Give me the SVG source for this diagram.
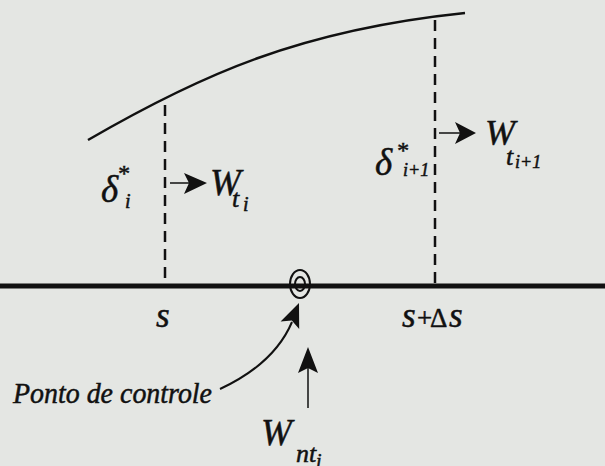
<svg xmlns="http://www.w3.org/2000/svg" width="605" height="466" viewBox="0 0 605 466">
<defs>
<style>
.t{font-family:"Liberation Serif","Times New Roman",serif;font-style:italic;fill:#111;stroke:#111;stroke-width:0.5}
.u{font-style:normal}
.ln{stroke:#111;fill:none}
.dash{stroke:#111;stroke-width:2.5;stroke-dasharray:11 7;fill:none}
.head{fill:#111;stroke:none}
</style>
</defs>
<rect width="605" height="466" fill="#e4e6e3"/>
<g id="profile">
<path class="ln" stroke-width="2.5" d="M88,140 C200,75 300,30 465,13"/>
</g>
<g id="surface">
<line class="ln" x1="0" y1="286" x2="605" y2="286" stroke-width="5"/>
</g>
<g id="station-s">
<line class="dash" x1="165" y1="105" x2="165" y2="284"/>
<text class="t" x="156" y="327" font-size="35">s</text>
</g>
<g id="station-s-ds">
<line class="dash" x1="435" y1="20" x2="435" y2="284"/>
<text class="t" x="402" y="327" font-size="35">s</text>
<text class="t u" x="417" y="327" font-size="27">+</text>
<text class="t u" x="430" y="327" font-size="27">Δ</text>
<text class="t" x="449" y="327" font-size="35">s</text>
</g>
<g id="delta-i">
<text class="t" x="101" y="202" font-size="37">δ</text>
<text class="t" x="117" y="181" font-size="24">*</text>
<text class="t" x="125" y="208" font-size="20">i</text>
</g>
<g id="delta-i1">
<text class="t" x="375" y="175" font-size="37">δ</text>
<text class="t" x="396" y="158" font-size="24">*</text>
<text class="t" x="403" y="176" font-size="18">i+1</text>
</g>
<g id="W-ti">
<text class="t" x="210" y="195" font-size="37">W</text>
<text class="t" x="232" y="207" font-size="26">t</text>
<text class="t" x="243" y="211" font-size="20">i</text>
</g>
<g id="W-ti1">
<text class="t" x="485" y="145" font-size="36">W</text>
<text class="t" x="506" y="165" font-size="26">t</text>
<text class="t" x="515" y="168" font-size="18">i+1</text>
</g>
<g id="W-nti">
<text class="t" x="261" y="445" font-size="37">W</text>
<text class="t" x="296" y="462" font-size="26">nt</text>
<text class="t" x="316" y="468" font-size="20">i</text>
</g>
<g id="control-point">
<ellipse class="ln" cx="300" cy="284" rx="10" ry="14" stroke-width="2"/>
<ellipse class="ln" cx="300" cy="284" rx="5" ry="7" stroke-width="2"/>
<text class="t" x="13" y="403" font-size="30" textLength="199" lengthAdjust="spacingAndGlyphs">Ponto de controle</text>
</g>
<g id="connectors">
<line class="ln" stroke-width="1.5" x1="170" y1="183" x2="190" y2="183"/>
<path class="head" d="M207,183 L184,173 L189,183 L184,194 Z"/>
<line class="ln" stroke-width="1.5" x1="439" y1="133" x2="461" y2="133"/>
<path class="head" d="M476,133 L455,122 L460,133 L455,144 Z"/>
<line class="ln" stroke-width="1.5" x1="308" y1="408" x2="308" y2="366"/>
<path class="head" d="M308,347 L318,373 L308,368 L298,373 Z"/>
<path class="ln" stroke-width="2" d="M220,389 C250,375 278,355 292,322"/>
<path class="head" d="M299,303 L299.2,329 L291.8,320.6 L280.6,321.4 Z"/>
</g>
</svg>
